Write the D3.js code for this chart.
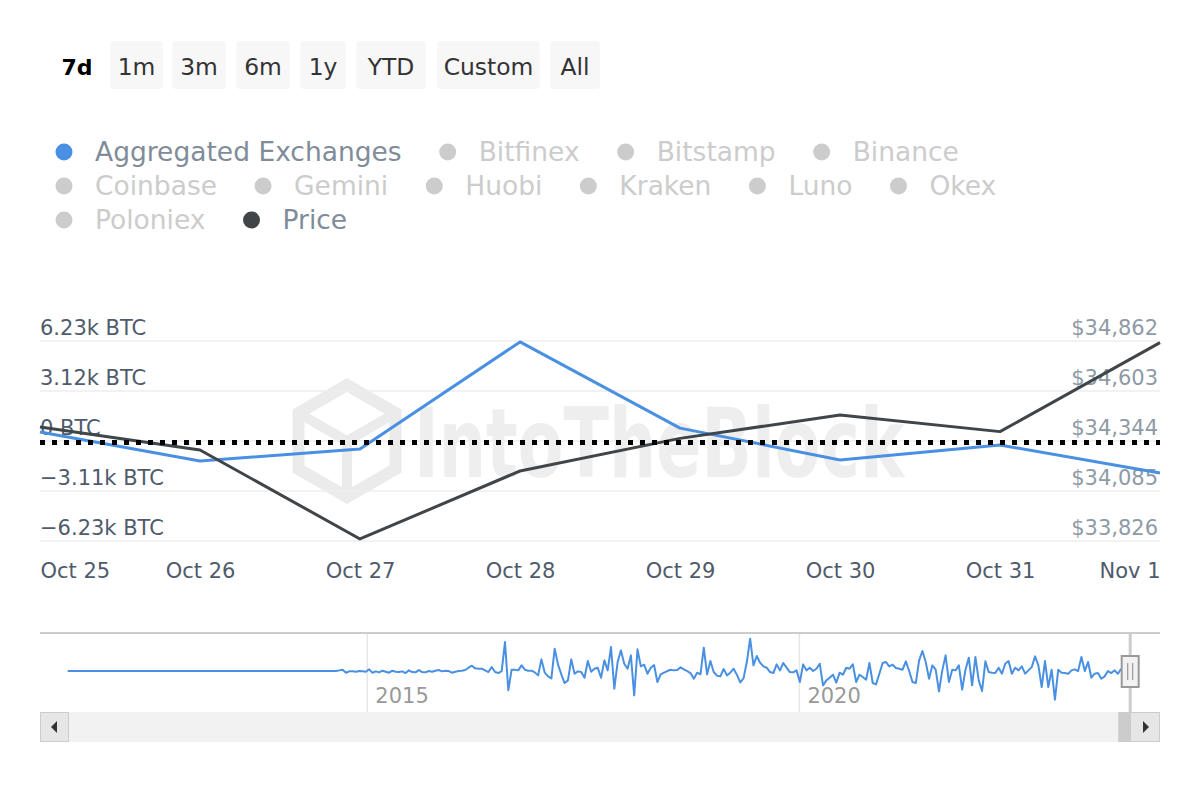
<!DOCTYPE html>
<html><head><meta charset="utf-8">
<script src="https://cdn.jsdelivr.net/npm/d3@7"></script>
<style>
html,body{margin:0;padding:0;background:#fff;}
svg{display:block;font-family:"DejaVu Sans",sans-serif;}
</style></head><body>
<svg id="chart" width="1200" height="800"></svg>
<script>
// ---------------- data ----------------
const dates = ["2023-10-25","2023-10-26","2023-10-27","2023-10-28","2023-10-29","2023-10-30","2023-10-31","2023-11-01"];
const aggregatedNetflow = [0.53,-1.28,-0.53,6.14,0.77,-1.21,-0.28,-2.03]; // thousand BTC
const price = [34414,34295,33834,34186,34355,34476,34390,34851];
const leftTicks = [-6.23,-3.115,0,3.115,6.23];
const leftTickLabels = ["\u22126.23k BTC","\u22123.11k BTC","0 BTC","3.12k BTC","6.23k BTC"];
const rightTicks = [33826,34085,34344,34603,34862];
const refLineValue = -0.13;
const rangeButtons = ["7d","1m","3m","6m","1y","YTD","Custom","All"];
const selectedButton = "7d";
const legendSeries = ["Aggregated Exchanges","Bitfinex","Bitstamp","Binance","Coinbase","Gemini","Huobi","Kraken","Luno","Okex","Poloniex","Price"];
const legendActive = {"Aggregated Exchanges":"#4a90e2","Price":"#404549"};
const navAxisDomain = ["2011-03-22","2024-03-06"];
const navStart = "2011-07-17";
const navStepDays = 14;
const navYearTicks = ["2015-01-01","2020-01-01"];
const navFlow = [
 0,0,0,0,0,0,0,0,0,0, 0,0,0,0,0,0,0,0,0,0, 0,0,0,0,0,0,0,0,0,0, 0,0,0,0,0,0,0,0,0,0,
 0,0,0,0,0,0,0,0,0,0, 0,0,0,0,0,0,0,0,0,0, 0,0,0,0,0,0,0,0,0,0, 0,0,0,0,0,0,0,0,0,0, 0,0,
 2,4,-5,-1,-1,-2,0,-1,-2,5, -5,-1,-4,1,-2,-5,1,-2,-3,-1, -6,2,-3,-4,3,-3,-4,0,-2,1,
 3,-1,1,0,-5,-2,0,1,3,10, 16,8,7,7,2,-3,12,-3,-6,0, 87,-58,4,4,2,17,4,1,1,-4,
 -13,35,-5,-16,-22,67,20,-10,-36,-28, 35,-8,-1,-3,-20,30,-2,7,
 10,-20,32,2,72,-53,27,62,22,7, 47,-73,65,14,19,-8,10,18,-33,-10,
 -5,0,4,2,3,11,5,0,-6,-23, -5,-10,70,-10,30,-3,-14,-16,6,-13,
 -5,7,-11,-34,-22,27,97,17,45,25, 14,10,-3,-6,20,2,24,10,-3,-4,
 2,-33,20,2,10,0,7,22,-43,-28, -20,-11,-35,-5,-11,10,7,20,-33,-11,
 -18,-26,24,-36,-40,-8,24,27,14,19, 9,7,4,29,0,-33,-36,32,60,27,
 -23,17,4,-61,2,47,-33,4,2,17, -56,4,40,-43,42,-28,-60,29,-3,-5,
 -6,10,-8,22,30,-8,10,2,14,-8, 2,12,44,17,-48,30,-48,4,-86,4,
 -5,-6,-8,2,5,0,42,0,27,-20, -8,-6,-23,-16,0,-6,2,-8,7
];

// ---------------- layout ----------------
const svg = d3.select("#chart");
const plotL = 40, plotR = 1160, plotT = 340.5, plotB = 540.5;
const parse = d3.utcParse("%Y-%m-%d");
const blue = "#4a90e2", dark = "#404549";
const leftColor = "#4f5b6c", rightColor = "#8e9aa6";

// ---------------- range buttons ----------------
const btnBoxes = [null,[110,53],[172,54],[236,54],[300,46],[356,70],[437,103],[550,50]];
const btnG = svg.append("g");
rangeButtons.forEach((b,i)=>{
  const sel = b === selectedButton;
  if (sel) {
    btnG.append("text").attr("x",77).attr("y",74.5).attr("text-anchor","middle")
      .attr("font-size",22).attr("font-weight","bold").attr("fill","#000").text(b);
  } else {
    const [bx,bw] = btnBoxes[i];
    btnG.append("rect").attr("x",bx).attr("y",41).attr("width",bw).attr("height",48)
      .attr("rx",4).attr("fill","#f7f7f7");
    btnG.append("text").attr("x",bx+bw/2).attr("y",74.5).attr("text-anchor","middle")
      .attr("font-size",23.4).attr("fill","#333").text(b);
  }
});

// ---------------- legend ----------------
const legG = svg.append("g");
let lx = 64, ly = 151;
const legLimit = 1080, rowH = 34;
legendSeries.forEach(name=>{
  const active = legendActive[name];
  const t = legG.append("text").attr("font-size",26.5)
    .attr("fill", active ? "#7f8c99" : "#cccccc").text(name);
  const tw = t.node().getComputedTextLength();
  if (lx + 31 + tw > legLimit) { lx = 64; ly += rowH; }
  t.attr("x", lx+31).attr("y", ly+9.5);
  legG.append("circle").attr("cx",lx).attr("cy",ly+1).attr("r",8.5)
    .attr("fill", active ? active : "#cccccc");
  lx = lx + 31 + tw + 46;
});

// ---------------- scales ----------------
const x = d3.scaleUtc().domain([parse(dates[0]), parse(dates[dates.length-1])]).range([plotL, plotR]);
const yL = d3.scaleLinear().domain([leftTicks[0], leftTicks[leftTicks.length-1]]).range([plotB, plotT]);
const yR = d3.scaleLinear().domain([rightTicks[0], rightTicks[rightTicks.length-1]]).range([plotB, plotT]);

// ---------------- watermark ----------------
const wm = svg.append("g").attr("fill","none").attr("stroke","#ebebeb");
const cx0 = 347, cy0 = 441, R = 56;
const hex = d3.range(6).map(k=>{const a=Math.PI/180*(-90+60*k);return [cx0+R*Math.cos(a), cy0+R*Math.sin(a)];});
wm.append("path").attr("d", d3.line()(hex)+"Z").attr("stroke-width",12).attr("stroke-linejoin","miter");
wm.append("path").attr("d", `M${hex[5][0]},${hex[5][1]}L${cx0},${cy0}L${hex[1][0]},${hex[1][1]}M${cx0},${cy0}L${hex[3][0]},${hex[3][1]}`)
  .attr("stroke-width",10);
svg.append("text").attr("transform","translate(414,477) scale(1,1.45)").attr("font-size",66.5).attr("font-weight","bold")
  .attr("fill","#eeeeee").text("IntoTheBlock");

// ---------------- grid ----------------
const grid = svg.append("g").attr("transform",`translate(${plotL},0)`)
  .call(d3.axisRight(yL).tickValues(leftTicks).tickSize(plotR-plotL).tickFormat(""));
grid.select(".domain").remove();
grid.selectAll("line").attr("stroke","#eeeeee").attr("stroke-width",1.5);

// ---------------- axes ----------------
const axL = svg.append("g").attr("transform",`translate(${plotL},0)`)
  .call(d3.axisRight(yL).tickValues(leftTicks).tickSize(0).tickPadding(0).tickFormat((d,i)=>leftTickLabels[i]));
axL.select(".domain").remove();
axL.selectAll("text").attr("dy",-6).attr("font-size",21).attr("fill",leftColor).attr("font-family","DejaVu Sans");

const axR = svg.append("g").attr("transform",`translate(${plotR-2},0)`)
  .call(d3.axisLeft(yR).tickValues(rightTicks).tickSize(0).tickPadding(0).tickFormat(d=>"$"+d3.format(",")(d)));
axR.select(".domain").remove();
axR.selectAll("text").attr("dy",-6).attr("font-size",21).attr("fill",rightColor).attr("font-family","DejaVu Sans");

const axX = svg.append("g").attr("transform",`translate(0,560)`)
  .call(d3.axisBottom(x).tickValues(dates.map(parse)).tickSize(0).tickPadding(0).tickFormat(d3.utcFormat("%b %-d")));
axX.select(".domain").remove();
axX.selectAll("text").attr("y",17.5).attr("dy",0).attr("font-size",21).attr("fill",leftColor).attr("font-family","DejaVu Sans")
  .attr("text-anchor",(d,i)=> i===0 ? "start" : (i===dates.length-1 ? "end" : "middle"));

// ---------------- series ----------------
const pts = dates.map((d,i)=>({d:parse(d), a:aggregatedNetflow[i], p:price[i]}));
svg.append("path").datum(pts).attr("fill","none").attr("stroke",blue).attr("stroke-width",3)
  .attr("stroke-linejoin","round").attr("d", d3.line().x(d=>x(d.d)).y(d=>yL(d.a)));
svg.append("path").datum(pts).attr("fill","none").attr("stroke",dark).attr("stroke-width",3)
  .attr("stroke-linejoin","round").attr("d", d3.line().x(d=>x(d.d)).y(d=>yR(d.p)));

// reference dotted line
svg.append("line").attr("x1",plotL).attr("x2",plotR).attr("y1",yL(refLineValue)).attr("y2",yL(refLineValue))
  .attr("stroke","#000").attr("stroke-width",5).attr("stroke-dasharray","5,7");

// ---------------- navigator ----------------
const navT = 633, navB = 712;
const nx = d3.scaleUtc().domain(navAxisDomain.map(parse)).range([plotL, plotR]);
const ny = d3.scaleLinear().domain([-86, 97]).range([699.7, 638.7]);
const start = parse(navStart);
const navPts = navFlow.map((v,i)=>({d:d3.utcDay.offset(start, i*navStepDays), v}));

const navG = svg.append("g");
const navAx = navG.append("g").attr("transform",`translate(0,${navT})`)
  .call(d3.axisBottom(nx).tickValues(navYearTicks.map(parse)).tickSize(navB-navT).tickPadding(0).tickFormat(d3.utcFormat("%Y")));
navAx.select(".domain").remove();
navAx.selectAll("line").attr("stroke","#e6e6e6").attr("stroke-width",1.5);
navAx.selectAll("text").attr("y",70).attr("dy",0).attr("x",8).attr("text-anchor","start")
  .attr("font-size",21).attr("fill","#999").attr("font-family","DejaVu Sans");
navG.append("line").attr("x1",plotL).attr("x2",plotR).attr("y1",navT).attr("y2",navT)
  .attr("stroke","#cccccc").attr("stroke-width",2);
navG.append("path").datum(navPts).attr("fill","none").attr("stroke",blue).attr("stroke-width",2)
  .attr("stroke-linejoin","round").attr("d", d3.line().x(d=>nx(d.d)).y(d=>ny(d.v)));

// selection edge + handle
const selEnd = nx(parse(dates[dates.length-1]));
navG.append("line").attr("x1",selEnd).attr("x2",selEnd).attr("y1",navT).attr("y2",navB)
  .attr("stroke","#cccccc").attr("stroke-width",3);
navG.append("rect").attr("x",selEnd-8.5).attr("y",656).attr("width",17).attr("height",31)
  .attr("fill","#f2f2f2").attr("stroke","#999").attr("stroke-width",2);
[-2.5,2.5].forEach(o=>navG.append("line").attr("x1",selEnd+o).attr("x2",selEnd+o).attr("y1",663).attr("y2",680)
  .attr("stroke","#999").attr("stroke-width",1.2));

// ---------------- scrollbar ----------------
const sbT = 712, sbH = 30;
navG.append("rect").attr("x",plotL).attr("y",sbT).attr("width",plotR-plotL).attr("height",sbH).attr("fill","#f2f2f2");
navG.append("rect").attr("x",selEnd-12).attr("y",sbT).attr("width",13).attr("height",sbH).attr("fill","#cccccc");
navG.append("rect").attr("x",plotL+0.5).attr("y",sbT+0.5).attr("width",28).attr("height",sbH-1)
  .attr("fill","#e6e6e6").attr("stroke","#cccccc");
navG.append("rect").attr("x",plotR-29.5).attr("y",sbT+0.5).attr("width",29).attr("height",sbH-1)
  .attr("fill","#e6e6e6").attr("stroke","#cccccc");
navG.append("path").attr("d",`M${plotL+11},${sbT+15}l6,-6v12z`).attr("fill","#333");
navG.append("path").attr("d",`M${plotR-11},${sbT+15}l-6,-6v12z`).attr("fill","#333");
</script>
</body></html>
